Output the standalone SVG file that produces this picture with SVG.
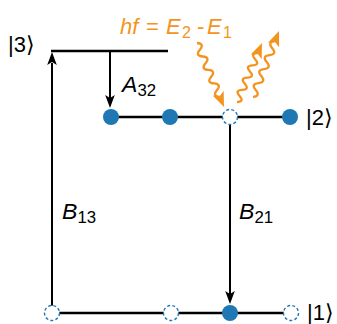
<svg xmlns="http://www.w3.org/2000/svg" xmlns:xlink="http://www.w3.org/1999/xlink" width="337" height="324" viewBox="0 0 337 324">
<style>
.lvl{stroke:#000;stroke-width:2.5;fill:none}
.tr{stroke:#000;stroke-width:2;fill:none}
.full{fill:#1f77b4;stroke:none}
.empty{fill:#fff;stroke:#1f77b4;stroke-width:1.4;stroke-dasharray:3 2.2}
.wave{stroke:#f49420;stroke-width:2.3;fill:none}
.lab{font-family:"Liberation Sans",Arial,"DejaVu Sans",sans-serif;font-size:22px;fill:#000}
.or{fill:#f49420}
.it{font-style:italic}
.sub{font-size:16px}
</style>
<defs>
<path id="ah" d="M0,0 L-13,-4.8 L-10,0 L-13,4.8 Z" fill="#000"/>
<path id="oh" d="M0,0 L-15,-6 L-11.5,0 L-15,6 Z" fill="#f49420"/>
</defs>
<g id="connectors">
<line class="tr" x1="52" y1="313" x2="52" y2="63"/>
<use xlink:href="#ah" transform="translate(52,52) rotate(-90)"/>
<line class="tr" x1="110" y1="51" x2="110" y2="98"/>
<use xlink:href="#ah" transform="translate(110,108) rotate(90)"/>
<line class="tr" x1="230" y1="125" x2="230" y2="294"/>
<use xlink:href="#ah" transform="translate(230,304) rotate(90)"/>
</g>
<g id="level3">
<line class="lvl" x1="51" y1="51" x2="168" y2="51"/>
<text class="lab" x="8" y="52">|3⟩</text>
</g>
<g id="level2">
<line class="lvl" x1="111" y1="117" x2="290" y2="117"/>
<circle class="full" cx="111" cy="117" r="8"/>
<circle class="full" cx="170" cy="117" r="8"/>
<circle class="empty" cx="230" cy="117" r="7.5"/>
<circle class="full" cx="290" cy="117" r="8"/>
<text class="lab" x="306" y="125">|2⟩</text>
</g>
<g id="level1">
<line class="lvl" x1="52" y1="313" x2="291" y2="313"/>
<circle class="empty" cx="52" cy="313" r="7.5"/>
<circle class="empty" cx="171" cy="313" r="7.5"/>
<circle class="full" cx="230" cy="313" r="8"/>
<circle class="empty" cx="291" cy="313" r="7.5"/>
<text class="lab" x="307" y="320">|1⟩</text>
</g>
<g id="labels">
<text class="lab" transform="translate(122,92) scale(1.05,1)"><tspan class="it">A</tspan><tspan class="sub" dy="4">32</tspan></text>
<text class="lab" transform="translate(62,219) scale(1.05,1)"><tspan class="it">B</tspan><tspan class="sub" dy="4">13</tspan></text>
<text class="lab" transform="translate(239,219) scale(1.05,1)"><tspan class="it">B</tspan><tspan class="sub" dy="4">21</tspan></text>
</g>
<g id="photon">
<text class="lab or"><tspan class="it" x="120" y="34">hf</tspan><tspan x="146" y="34">=</tspan><tspan class="it" x="166" y="34">E</tspan><tspan class="sub" x="182" y="38">2</tspan><tspan x="197" y="34">-</tspan><tspan class="it" x="207" y="34">E</tspan><tspan class="sub" x="223" y="38">1</tspan></text>
<path class="wave" d="M197,43 q7.86,0.64 2.84,6.74 t2.84,6.74 t2.84,6.74 t2.84,6.74 t2.84,6.74 t2.84,6.74 t2.84,6.74 t2.84,6.74"/>
<use xlink:href="#oh" transform="translate(224,107) rotate(67)"/>
<path class="wave" d="M237,102 q7.73,-0.33 2.59,-6.11 t2.59,-6.11 t2.59,-6.11 t2.59,-6.11 t2.59,-6.11 t2.59,-6.11 t2.59,-6.11 t2.59,-6.11"/>
<use xlink:href="#oh" transform="translate(262,43) rotate(-67)"/>
<path class="wave" d="M253,97 q7.89,-0.92 2.75,-6.98 t2.75,-6.98 t2.75,-6.98 t2.75,-6.98 t2.75,-6.98 t2.75,-6.98 t2.75,-6.98 t2.75,-6.98"/>
<use xlink:href="#oh" transform="translate(279,31) rotate(-68.5)"/>
</g>
</svg>
